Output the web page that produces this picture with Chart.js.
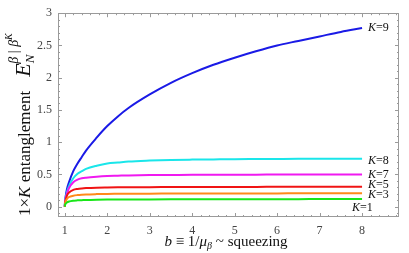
<!DOCTYPE html>
<html><head><meta charset="utf-8">
<script src="https://cdn.jsdelivr.net/npm/chart.js@4/dist/chart.umd.min.js"></script>
<style>html,body{margin:0;padding:0;background:#fff}#wrap{width:409px;height:253px}</style>
</head><body><div id="wrap"><canvas id="c" width="409" height="253"></canvas></div>
<script>
const bValues = [1, 1.005, 1.02, 1.05, 1.1, 1.2, 1.3, 1.4, 1.5, 1.75, 2, 2.25, 2.5, 3, 3.5, 4, 4.5, 5, 5.5, 6, 6.5, 7, 7.5, 8];
const seriesNames = ["K=1", "K=3", "K=5", "K=7", "K=8", "K=9"];
const k1 = [0, 0.025, 0.045, 0.065, 0.08, 0.093, 0.098, 0.101, 0.104, 0.108, 0.11, 0.111, 0.112, 0.113, 0.114, 0.115, 0.115, 0.116, 0.116, 0.117, 0.117, 0.118, 0.118, 0.119];
const k3 = [0, 0.04, 0.08, 0.12, 0.15, 0.17, 0.18, 0.186, 0.19, 0.195, 0.198, 0.199, 0.2, 0.202, 0.203, 0.204, 0.205, 0.205, 0.206, 0.206, 0.207, 0.207, 0.208, 0.208];
const k5 = [0, 0.05, 0.1, 0.17, 0.22, 0.26, 0.275, 0.283, 0.288, 0.295, 0.298, 0.3, 0.301, 0.303, 0.304, 0.305, 0.306, 0.307, 0.307, 0.308, 0.308, 0.309, 0.309, 0.31];
const k7 = [0, 0.06, 0.12, 0.2, 0.29, 0.38, 0.42, 0.44, 0.45, 0.465, 0.475, 0.48, 0.485, 0.49, 0.492, 0.494, 0.495, 0.496, 0.497, 0.498, 0.499, 0.5, 0.5, 0.5];
const k8 = [0, 0.07, 0.13, 0.22, 0.32, 0.44, 0.51, 0.55, 0.585, 0.635, 0.67, 0.685, 0.7, 0.715, 0.725, 0.73, 0.733, 0.736, 0.738, 0.74, 0.742, 0.743, 0.744, 0.745];
const k9 = [0, 0.08, 0.16, 0.27, 0.38, 0.55, 0.67, 0.77, 0.87, 1.07, 1.25, 1.4, 1.53, 1.74, 1.92, 2.07, 2.2, 2.31, 2.41, 2.5, 2.57, 2.64, 2.71, 2.77];
const xTickValues = [1, 2, 3, 4, 5, 6, 7, 8];
const xTickLabels = ["1", "2", "3", "4", "5", "6", "7", "8"];
const yTickValues = [0, 0.5, 1, 1.5, 2, 2.5, 3];
const yTickLabels = ["0", "0.5", "1", "1.5", "2", "2.5", "3"];

const allSeries = [k1, k3, k5, k7, k8, k9];
const colors = ["#19e619", "#ff8a1a", "#f01414", "#f019f0", "#1ae6ea", "#1a1ae6"];
const labelOffsets = [[-10, 9], [6, 2], [6, -2], [6, 0], [6, 2], [6, 0]];

const serif = "'Liberation Serif', 'DejaVu Serif', serif";

function drawRich(ctx, segs, x, y, align) {
  let total = 0;
  for (const s of segs) { ctx.font = s.f; s.w = ctx.measureText(s.t).width; total += s.w + (s.gap || 0); }
  let cx = align === 'center' ? x - total / 2 : x;
  for (const s of segs) {
    ctx.font = s.f;
    ctx.fillText(s.t, cx, y + (s.dy || 0));
    cx += s.w + (s.gap || 0);
  }
}

const decor = {
  id: 'decor',
  afterDatasetsDraw(chart) {
    const ctx = chart.ctx, a = chart.chartArea;
    const xs = chart.scales.x, ys = chart.scales.y;
    ctx.save();
    ctx.strokeStyle = '#9a9a9a';
    ctx.lineWidth = 1;
    ctx.strokeRect(Math.round(a.left) + 0.5, Math.round(a.top) + 0.5, Math.round(a.right - a.left) - 1, Math.round(a.bottom - a.top) - 1);
    ctx.beginPath();
    for (let i = 0; i <= 45; i++) {
      const v = Math.round((0.8 + i * 0.2) * 10) / 10;
      if (v < xs.min || v > xs.max) continue;
      const px = Math.round(xs.getPixelForValue(v)) + 0.5;
      const major = Math.abs(v - Math.round(v)) < 1e-6;
      const len = major ? 4 : 2;
      ctx.moveTo(px, a.bottom); ctx.lineTo(px, a.bottom - len);
      ctx.moveTo(px, a.top); ctx.lineTo(px, a.top + len);
    }
    for (let i = -1; i <= 30; i++) {
      const val = i / 10;
      if (val < ys.min || val > ys.max) continue;
      const py = Math.round(ys.getPixelForValue(val)) + 0.5;
      const major = i % 5 === 0;
      const len = major ? 4 : 2;
      ctx.moveTo(a.left, py); ctx.lineTo(a.left + len, py);
      ctx.moveTo(a.right, py); ctx.lineTo(a.right - len, py);
    }
    ctx.stroke();
    ctx.fillStyle = '#111';
    ctx.textBaseline = 'middle';
    ctx.textAlign = 'left';
    allSeries.forEach((s, i) => {
      const px = xs.getPixelForValue(bValues[bValues.length - 1]) + labelOffsets[i][0];
      const py = ys.getPixelForValue(s[s.length - 1]) + labelOffsets[i][1];
      const num = seriesNames[i].split('=')[1];
      drawRich(ctx, [{t: 'K', f: 'italic 12px ' + serif}, {t: '=' + num, f: '12px ' + serif}], px, py, 'left');
    });
    ctx.textBaseline = 'alphabetic';
    drawRich(ctx, [
      {t: 'b', f: 'italic 15px ' + serif},
      {t: ' \u2261 1/', f: '15px ' + serif},
      {t: '\u03bc', f: 'italic 15px ' + serif},
      {t: '\u03b2', f: 'italic 10px ' + serif, dy: 3},
      {t: ' ~ squeezing', f: '15px ' + serif}
    ], 226, 246, 'center');
    ctx.translate(30, 216);
    ctx.rotate(-Math.PI / 2);
    drawRich(ctx, [
      {t: '1\u00d7', f: '17px ' + serif},
      {t: 'K', f: 'italic 17px ' + serif},
      {t: ' entanglement', f: '17px ' + serif, gap: 14},
      {t: 'E', f: 'italic 22px ' + serif},
      {t: 'N', f: 'italic 13px ' + serif, dy: 4, gap: -9},
      {t: '\u03b2', f: 'italic 14px ' + serif, dy: -12},
      {t: ' | ', f: '14px ' + serif, dy: -12},
      {t: '\u03b2', f: 'italic 14px ' + serif, dy: -12},
      {t: 'K', f: 'italic 10px ' + serif, dy: -18}
    ], 0, 0, 'left');
    ctx.restore();
  }
};

const datasets = allSeries.map((s, i) => ({
  label: seriesNames[i],
  data: s.map((v, j) => ({x: bValues[j], y: v})),
  borderColor: colors[i],
  borderWidth: 2,
  pointRadius: 0,
  fill: false,
  cubicInterpolationMode: 'monotone'
}));

new Chart(document.getElementById('c'), {
  type: 'line',
  data: {datasets},
  options: {
    responsive: false,
    animation: false,
    layout: {padding: {top: 7, right: 10, left: 0, bottom: 0}},
    plugins: {legend: {display: false}, tooltip: {enabled: false}},
    scales: {
      x: {
        type: 'linear', min: 0.84, max: 8.87,
        afterBuildTicks: s => { s.ticks = xTickValues.map(v => ({value: v})); },
        afterFit: s => { s.height = 36; },
        grid: {display: false, drawTicks: false},
        border: {display: false},
        ticks: {
          callback: (v) => xTickLabels[xTickValues.indexOf(v)],
          font: {family: serif, size: 12}, color: '#444', padding: 7, maxRotation: 0
        }
      },
      y: {
        type: 'linear', min: -0.16, max: 3,
        afterBuildTicks: s => { s.ticks = yTickValues.map(v => ({value: v})); },
        afterFit: s => { s.width = 58; },
        grid: {display: false, drawTicks: false},
        border: {display: false},
        ticks: {
          callback: (v) => yTickLabels[yTickValues.indexOf(v)],
          font: {family: serif, size: 12}, color: '#444', padding: 6
        }
      }
    }
  },
  plugins: [decor]
});
</script></body></html>
